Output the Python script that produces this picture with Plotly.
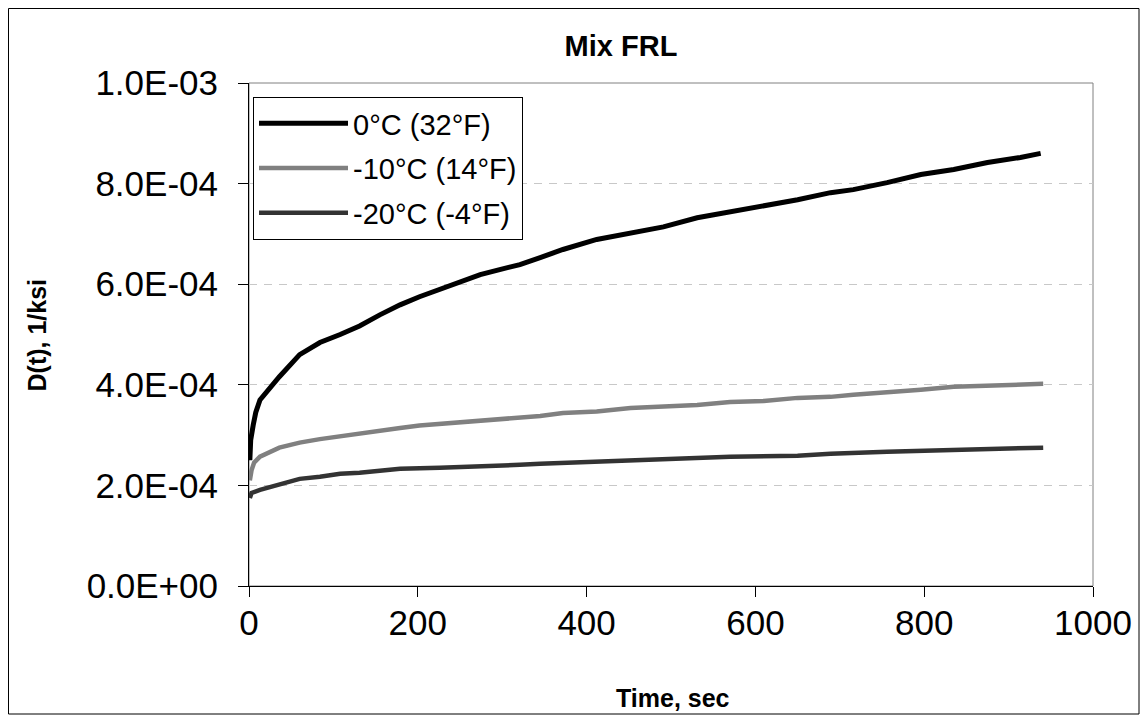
import plotly.graph_objects as go

# ---- data ----
series_names = ["0°C (32°F)", "-10°C (14°F)", "-20°C (-4°F)"]

time_0c = [1, 2, 5, 8, 13, 25, 36, 60, 84, 108, 131, 155, 179, 202, 226, 250, 274, 297,
           321, 345, 372, 412, 452, 491, 531, 570, 610, 650, 689, 716, 756, 796, 835,
           875, 914, 938]
d_0c = [2.50e-4, 2.90e-4, 3.20e-4, 3.45e-4, 3.70e-4, 3.94e-4, 4.16e-4, 4.60e-4, 4.84e-4,
        5.00e-4, 5.17e-4, 5.39e-4, 5.59e-4, 5.75e-4, 5.89e-4, 6.03e-4, 6.19e-4, 6.29e-4,
        6.39e-4, 6.53e-4, 6.69e-4, 6.89e-4, 7.02e-4, 7.14e-4, 7.32e-4, 7.44e-4, 7.54e-4,
        7.68e-4, 7.82e-4, 7.88e-4, 8.02e-4, 8.18e-4, 8.28e-4, 8.42e-4, 8.52e-4, 8.60e-4]

time_m10c = [1, 3, 6, 13, 36, 60, 84, 108, 131, 155, 179, 202, 226, 250, 274, 297, 321,
             345, 372, 412, 452, 491, 531, 570, 610, 650, 689, 716, 756, 796, 835, 875,
             914, 941]
d_m10c = [2.10e-4, 2.30e-4, 2.45e-4, 2.57e-4, 2.75e-4, 2.85e-4, 2.92e-4, 2.97e-4, 3.04e-4,
          3.08e-4, 3.14e-4, 3.19e-4, 3.22e-4, 3.26e-4, 3.30e-4, 3.32e-4, 3.36e-4, 3.38e-4,
          3.44e-4, 3.47e-4, 3.54e-4, 3.56e-4, 3.60e-4, 3.66e-4, 3.68e-4, 3.74e-4, 3.76e-4,
          3.80e-4, 3.84e-4, 3.90e-4, 3.96e-4, 3.98e-4, 4.00e-4, 4.02e-4]

time_m20c = [1, 3, 13, 36, 60, 84, 108, 131, 155, 179, 226, 274, 321, 345, 412, 491, 570,
             650, 689, 756, 835, 941]
d_m20c = [1.75e-4, 1.85e-4, 1.91e-4, 2.01e-4, 2.13e-4, 2.17e-4, 2.23e-4, 2.25e-4, 2.29e-4,
          2.33e-4, 2.35e-4, 2.37e-4, 2.41e-4, 2.43e-4, 2.47e-4, 2.53e-4, 2.57e-4, 2.59e-4,
          2.63e-4, 2.67e-4, 2.71e-4, 2.75e-4]

y_tick_vals = [0.0, 2e-4, 4e-4, 6e-4, 8e-4, 1e-3]
y_tick_text = ["0.0E+00", "2.0E-04", "4.0E-04", "6.0E-04", "8.0E-04", "1.0E-03"]
x_tick_vals = [0, 200, 400, 600, 800, 1000]

colors = ["#000000", "#808080", "#333333"]
widths = [5, 4.5, 4.5]
FONT = "Liberation Sans, Arial, sans-serif"

fig = go.Figure()
for name, t, d, c, w in zip(series_names,
                            [time_0c, time_m10c, time_m20c],
                            [d_0c, d_m10c, d_m20c], colors, widths):
    fig.add_trace(go.Scatter(x=t, y=d, mode="lines", name=name, legendgroup=name,
                             line=dict(color=c, width=w)))

# page body has an 8px margin: figure origin sits at screen (8, 8)
OFF = 8
W, H = 1140, 711
L, R, T, B = 241, 55, 75, 133
pw, ph = W - L - R, H - T - B


def px_x(s):  # screen x -> paper fraction
    return (s - OFF - L) / pw


def px_y(s):  # screen y -> paper fraction
    return (H - B - (s - OFF)) / ph


fig.update_layout(
    width=W, height=H, autosize=False,
    margin=dict(l=L, r=R, t=T, b=B),
    paper_bgcolor="white", plot_bgcolor="white",
    font=dict(family=FONT, color="black"),
    title=dict(text="<b>Mix FRL</b>", x=(621 - OFF) / W, y=1 - (46 - OFF) / H,
               xanchor="center", yanchor="middle", xref="container", yref="container",
               font=dict(size=29, family=FONT, color="black")),
    showlegend=True,
    legend=dict(x=px_x(253), y=px_y(97), xanchor="left", yanchor="top",
                bgcolor="white", bordercolor="black", borderwidth=1,
                font=dict(size=29, family=FONT, color="black"),
                itemwidth=89, tracegroupgap=4, traceorder="grouped"),
    xaxis=dict(range=[0, 1000], tickvals=x_tick_vals, ticks="outside", ticklen=10,
               tickcolor="black", showline=True, linecolor="black", linewidth=1,
               showgrid=False, zeroline=False, ticklabelstandoff=-4,
               tickfont=dict(size=35, family=FONT, color="black")),
    yaxis=dict(range=[0, 1e-3], tickvals=y_tick_vals, ticktext=y_tick_text,
               ticks="outside", ticklen=10, tickcolor="black", showline=True,
               linecolor="black", linewidth=1, showgrid=True, gridcolor="#c8c8c8",
               griddash="8px,7px", gridwidth=1, zeroline=False, ticklabelstandoff=13,
               tickfont=dict(size=35, family=FONT, color="black")),
    annotations=[
        dict(text="<b>Time, sec</b>", xref="paper", yref="paper", x=px_x(673),
             y=px_y(698), xanchor="center", yanchor="middle", showarrow=False,
             font=dict(size=25, family=FONT, color="black")),
        dict(text="<b>D(t), 1/ksi</b>", xref="paper", yref="paper", x=px_x(36),
             y=0.5, xanchor="center", yanchor="middle", textangle=-90, showarrow=False,
             font=dict(size=25, family=FONT, color="black")),
    ],
    shapes=[
        dict(type="rect", xref="x domain", yref="y domain", x0=0, x1=1, y0=0, y1=1,
             line=dict(color="#808080", width=1), layer="below"),
        dict(type="rect", xref="paper", yref="paper", x0=px_x(8.5), x1=px_x(1139),
             y0=px_y(714), y1=px_y(8.5), line=dict(color="black", width=1),
             layer="below"),
    ],
)

fig.write_html("out.html")
